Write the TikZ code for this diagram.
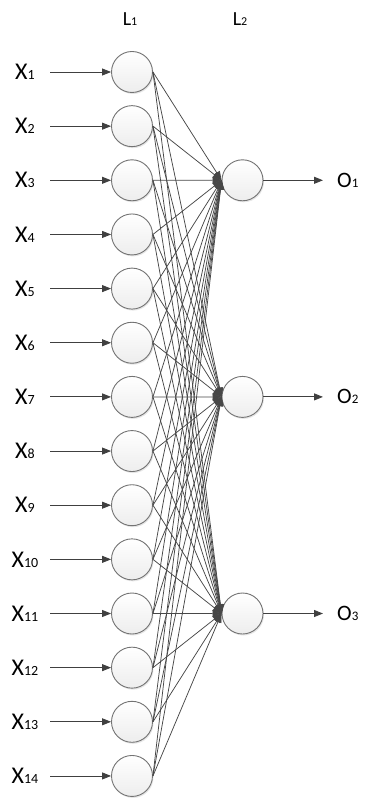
\documentclass[tikz,border=0pt]{standalone}
\usepackage{fontspec}
\setmainfont{Carlito}
\usetikzlibrary{arrows.meta,shadows}
\newcommand\sublabel[4]{{\fontsize{#1}{#1}\selectfont #3}{\fontsize{#2}{#2}\selectfont #4}}
\begin{document}
\begin{tikzpicture}[x=1pt,y=-1pt,
  neuron/.style={circle,draw=black!55,line width=0.9pt,minimum size=41pt,inner sep=0pt,
    top color=white,bottom color=black!7,
    drop shadow={shadow xshift=1pt,shadow yshift=-1.5pt,opacity=0.2}},
  conn/.style={draw=black!72,line width=0.75pt,-{Triangle[length=9pt,width=7pt]}},
  inarrow/.style={draw=black!75,line width=0.85pt,-{Triangle[length=9pt,width=7pt]}},
  xlab/.style={inner sep=0pt},
]
\useasboundingbox (0,0) rectangle (367,799);
% layer labels
\node[xlab] (l1) at (130,19) {\sublabel{20}{12}{L}{1}};
\node[xlab] (l2) at (240,19) {\sublabel{20}{12}{L}{2}};
% first layer
\foreach \i in {1,...,14} {
  \pgfmathsetmacro{\yy}{72+54.15*(\i-1)}
  \node[neuron] (a\i) at (132,\yy) {};
  \node[xlab] (x\i) at (25,\yy) {\sublabel{24}{14}{X}{\i}};
  \coordinate (s\i) at (50,\yy);
}
% second layer
\node[neuron] (b1) at (242.5,180.3) {};
\node[neuron] (b2) at (242.5,396.9) {};
\node[neuron] (b3) at (242.5,613.5) {};
% outputs
\foreach \j in {1,2,3} {
  \coordinate (t\j) at (323,0 |- b\j);
  \node[xlab,anchor=west] (o\j) at (337,0 |- b\j) {\sublabel{22}{13}{O}{\j}};
  \draw[inarrow] (b\j.east) -- (t\j);
}
% input arrows
\foreach \i in {1,...,14} {
  \draw[inarrow] (s\i) -- (a\i.west);
}
% connections
\foreach \i in {1,...,14} {
  \foreach \j in {1,2,3} {
    \draw[conn] (a\i.east) -- (b\j.west);
  }
}
\end{tikzpicture}
\end{document}
